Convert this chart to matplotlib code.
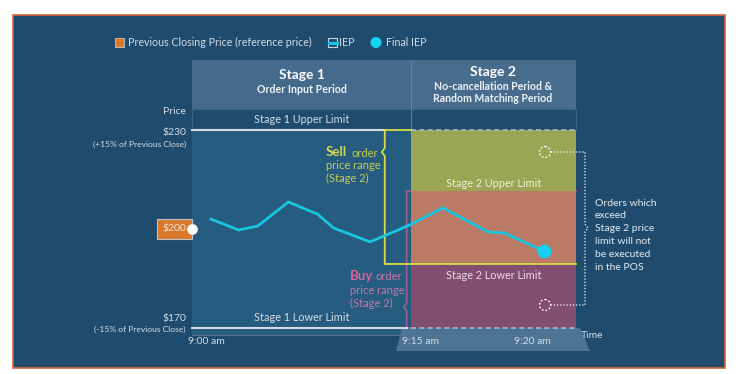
import numpy as np
import matplotlib.pyplot as plt
from matplotlib.patches import Rectangle, Circle, Polygon

plt.rcParams['font.family'] = ['Lato', 'DejaVu Sans']

# ---- data ----
prev_close = 200
stage1_limits = [170, 230]          # lower, upper (+/-15%)
stage2_limits = [189.4, 211.5]      # lower, upper
stage2_start = 15                   # minutes after 9:00
stage2_end = 21.2
sell_range_start = 13.2
buy_range_start = 14.7
iep_minutes = [1.3, 3.2, 4.5, 6.6, 8.6, 9.7, 12.2, 14.9, 16.2, 17.9, 18.5, 20.0]
iep_prices = [203.0, 199.7, 200.9, 208.2, 204.5, 200.3, 196.1, 201.2, 206.4, 199.1, 198.8, 193.3]
time_ticks = [0, 15, 20]
time_labels = ['9:00 am', '9:15 am', '9:20 am']
time_label_shift = [14, 9, -12]
note_lines = ['Orders which', 'exceed', 'Stage 2 price', 'limit will not', 'be executed', 'in the POS']

BG = '#1F4B6E'
PANEL = '#265C7F'
HEAD = '#456A8B'
CYAN = '#19C6E2'
YEL = '#D6DC48'
PINK = '#A35C90'
LIGHT = '#D5DCE3'

W, H = 739, 374
L, M, R, TOP, BOT = 192, 411, 576, 130, 328

fig = plt.figure(figsize=(W / 100, H / 100), dpi=100, facecolor='white')
bg = fig.add_axes([0, 0, 1, 1])
bg.set_xlim(0, W)
bg.set_ylim(H, 0)
bg.axis('off')

# outer frame and panels
bg.add_patch(Rectangle((13, 15), 712, 353, fc=BG, ec='#D6653E', lw=1.2))
bg.add_patch(Rectangle((L, TOP), M - L, 205, fc=PANEL, ec='none'))
bg.plot([L, 400], [335, 335], color='#4C7393', lw=0.8)
bg.add_patch(Rectangle((L, 60), M - L, 49, fc=HEAD, ec='none'))
bg.add_patch(Rectangle((M, 60), R - M, 49, fc='#486C8C', ec='none'))
bg.plot([M, M], [60, TOP], color='#5E81A0', lw=0.8)
bg.add_patch(Rectangle((L, 109), R - L, 21, fc=BG, ec='#3C6588', lw=0.8))
bg.add_patch(Polygon([(402, BOT), (580, BOT), (590, 351), (396, 351)],
                     closed=True, fc='#4D7494', ec='none'))

# headers
bg.text(302, 75, 'Stage 1', color='white', fontsize=10, fontweight='bold', ha='center', va='center')
bg.text(302, 89.5, 'Order Input Period', color='#EEF2F5', fontsize=7.7, fontweight='bold', ha='center', va='center')
bg.text(493, 72, 'Stage 2', color='white', fontsize=10, fontweight='bold', ha='center', va='center')
bg.text(493, 86, 'No-cancellation Period &', color='#EEF2F5', fontsize=7.6, fontweight='bold', ha='center', va='center')
bg.text(493, 98.5, 'Random Matching Period', color='#EEF2F5', fontsize=7.6, fontweight='bold', ha='center', va='center')
bg.text(302, 119, 'Stage 1 Upper Limit', color=LIGHT, fontsize=7.8, ha='center', va='center')

# legend
bg.add_patch(Rectangle((115, 38), 9, 9, fc='#D9782B', ec='#C8C8C8', lw=0.6))
bg.text(128, 42.5, 'Previous Closing Price (reference price)', color=LIGHT, fontsize=7.7, va='center')
bg.add_patch(Rectangle((328, 38), 9, 9, fc=BG, ec='#C8D4DE', lw=0.8))
bg.plot([328.5, 336.5], [42.5, 42.5], color=CYAN, lw=2.2)
bg.text(339, 42.5, 'IEP', color=LIGHT, fontsize=7.7, va='center')
bg.add_patch(Circle((376, 42.5), 5.5, fc='#14D2F0', ec='none'))
bg.text(386, 42.5, 'Final IEP', color=LIGHT, fontsize=7.7, va='center')

for i, line in enumerate(note_lines):
    bg.text(595, 203 + i * 12.8, line, color='#E6EBF0', fontsize=7.5, va='center', ha='left')

# ---- main chart axes: price vs minutes after 9:00 ----
ax = fig.add_axes([L / W, 1 - BOT / H, (R - L) / W, (BOT - TOP) / H])
ax.patch.set_alpha(0)
knots_m = [-100, 0, stage2_start, 20, 100]
knots_p = [-1460, 0, 219, 352, 352 + 80 * 26.6]
ax.set_xscale('function', functions=(lambda m: np.interp(m, knots_m, knots_p),
                                     lambda p: np.interp(p, knots_p, knots_m)))
ax.set_xlim(0, stage2_end)
ax.set_ylim(stage1_limits[0], stage1_limits[1])
ax.axis('off')

# buy range outline (under the bands)
nx, ny = 0.2, 1.2
buy_notch = 176.4
ax.plot([stage2_end, buy_range_start, buy_range_start, buy_range_start - nx, buy_range_start,
         buy_range_start, stage2_start],
        [stage2_limits[1], stage2_limits[1], buy_notch + ny, buy_notch, buy_notch - ny,
         stage1_limits[0], stage1_limits[0]], color=PINK, lw=1.2, clip_on=False, zorder=1)

# stage 2 bands
xs = [stage2_start, stage2_end]
ax.fill_between(xs, stage2_limits[1], stage1_limits[1], color='#9BA654', lw=0, zorder=2)
ax.fill_between(xs, stage2_limits[0], stage2_limits[1], color='#BA7A66', lw=0, zorder=2)
ax.fill_between(xs, stage1_limits[0], stage2_limits[0], color='#834F70', lw=0, zorder=2)
ax.plot(xs, [stage1_limits[1]] * 2, color='#A8B8C8', lw=1.2, ls=(0, (3, 2)), clip_on=False, zorder=3)
ax.plot(xs, [stage1_limits[0]] * 2, color='#A8B8C8', lw=1.2, ls=(0, (3, 2)), clip_on=False, zorder=3)
ax.text(np.mean(xs), 213.8, 'Stage 2 Upper Limit', color='#EEF0D8', fontsize=7.8, ha='center', va='center', zorder=4)
ax.text(np.mean(xs), 186.0, 'Stage 2 Lower Limit', color='#EADCE4', fontsize=7.8, ha='center', va='center', zorder=4)

# stage 1 limit lines
ax.plot([0, sell_range_start], [stage1_limits[1]] * 2, color=LIGHT, lw=1.5, clip_on=False, zorder=3)
ax.plot([0, buy_range_start], [stage1_limits[0]] * 2, color=LIGHT, lw=1.5, clip_on=False, zorder=3)
ax.text(7.5, 173.3, 'Stage 1 Lower Limit', color=LIGHT, fontsize=7.8, ha='center', va='center')

# sell range outline
sell_notch = 223.3
ax.plot([stage2_start, sell_range_start, sell_range_start, sell_range_start - nx, sell_range_start,
         sell_range_start, stage2_end],
        [stage1_limits[1], stage1_limits[1], sell_notch + ny, sell_notch, sell_notch - ny,
         stage2_limits[0], stage2_limits[0]], color=YEL, lw=1.3, clip_on=False, zorder=5)

# IEP line and final IEP
ax.plot(iep_minutes, iep_prices, color=CYAN, lw=2, zorder=6, solid_joinstyle='miter')
ax.scatter(iep_minutes[-1], iep_prices[-1], s=80, color='#14D2F0', zorder=7, clip_on=False)

# previous close marker
ax.annotate('$%d' % prev_close, xy=(0, prev_close), xytext=(-6, 0), textcoords='offset pixels',
            ha='right', va='center', color='#F4E4D4', fontsize=7.5, zorder=8,
            bbox=dict(boxstyle='square,pad=0.55', fc='#D9782B', ec='#BFC4C8', lw=0.8))
ax.scatter([0], [prev_close], s=45, color='white', zorder=9, clip_on=False)

# price axis labels
def side(txt, price, dy, size):
    ax.annotate(txt, xy=(0, price), xytext=(-6, dy), textcoords='offset pixels',
                ha='right', va='center', color=LIGHT, fontsize=size)

side('Price', stage1_limits[1], 18, 7.5)
side('$%d' % stage1_limits[1], stage1_limits[1], -3, 7.5)
side('(+15% of Previous Close)', stage1_limits[1], -14, 6.1)
side('$%d' % stage1_limits[0], stage1_limits[0], 10, 7.5)
side('(-15% of Previous Close)', stage1_limits[0], -1, 6.1)

# time labels
for t, lab, dx in zip(time_ticks, time_labels, time_label_shift):
    ax.annotate(lab, xy=(t, stage1_limits[0]), xytext=(dx, -14), textcoords='offset pixels',
                ha='center', va='center', color=LIGHT, fontsize=7.5, zorder=8)
ax.annotate('Time', xy=(stage2_end, stage1_limits[0]), xytext=(5, -8), textcoords='offset pixels',
            ha='left', va='center', color=LIGHT, fontsize=7.5)

# ---- overlay: annotation markers and range captions ----
fg = fig.add_axes([0, 0, 1, 1])
fg.set_xlim(0, W)
fg.set_ylim(H, 0)
fg.axis('off')
fg.patch.set_alpha(0)
fg.add_patch(Circle((545, 152), 5.5, fc='none', ec='white', lw=0.9, ls=(0, (1.5, 1.5))))
fg.add_patch(Circle((545, 305), 5.5, fc='none', ec='white', lw=0.9, ls=(0, (1.5, 1.5))))
fg.plot([551, 585, 585, 588, 585, 585, 551], [152, 152, 224, 228, 232, 305, 305],
        color='white', lw=0.9, ls=(0, (1, 1.5)))

fg.text(326, 152, 'Sell', color=YEL, fontsize=9.5, fontweight='bold', va='center')
fg.text(352, 153, 'order', color='#C5CE55', fontsize=8, va='center')
fg.text(326, 165, 'price range', color='#C5CE55', fontsize=8, va='center')
fg.text(326, 178, '(Stage 2)', color='#C5CE55', fontsize=8, va='center')
fg.text(350, 276, 'Buy', color='#DA639E', fontsize=9.5, fontweight='bold', va='center')
fg.text(375, 277, 'order', color='#BE7AA8', fontsize=8, va='center')
fg.text(350, 290, 'price range', color='#BE7AA8', fontsize=8, va='center')
fg.text(350, 303, '(Stage 2)', color='#BE7AA8', fontsize=8, va='center')

fig.savefig('out.png', dpi=100, facecolor='white')
